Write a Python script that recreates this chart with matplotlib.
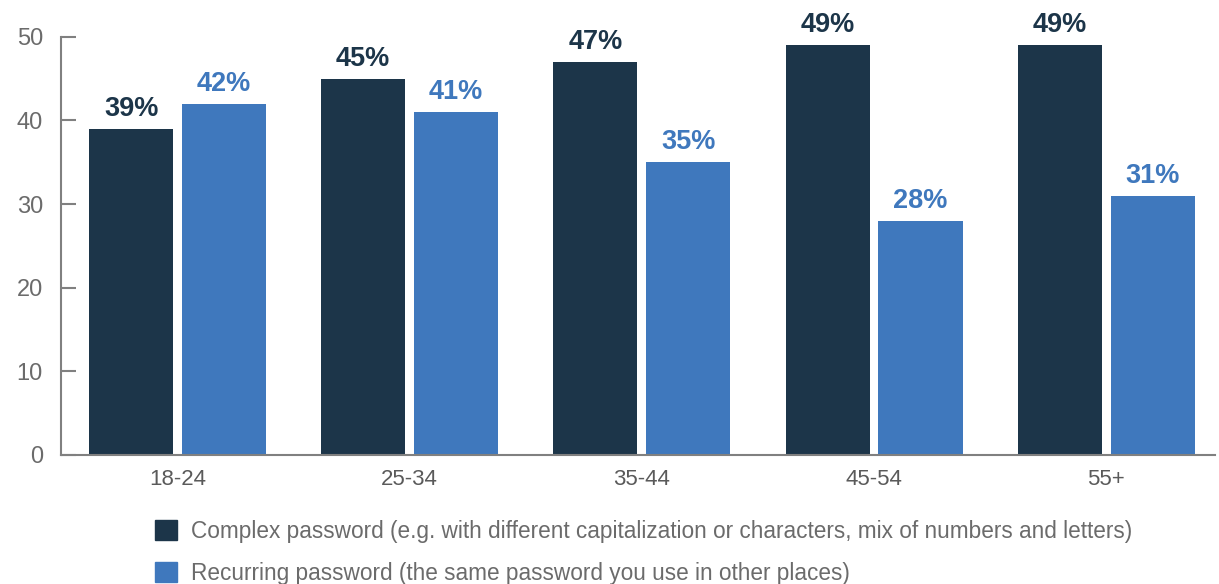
import numpy as np
import matplotlib
matplotlib.use('Agg')
import matplotlib.pyplot as plt
from matplotlib.patches import Patch

plt.rcParams['font.family'] = ['Liberation Sans', 'DejaVu Sans']

age_groups = ['18-24', '25-34', '35-44', '45-54', '55+']
complex_pw = [39, 45, 47, 49, 49]
recurring_pw = [42, 41, 35, 28, 31]
series_names = [
    'Complex password (e.g. with different capitalization or characters, mix of numbers and letters)',
    'Recurring password (the same password you use in other places)',
]

dark = '#1c3549'
blue = '#3f78bd'
grey = '#808080'

fig = plt.figure(figsize=(12.19, 5.84), dpi=100)
ax = fig.add_axes([0.050, 0.221, 0.947, 0.716])

x = np.arange(len(age_groups))
w = 0.362
b1 = ax.bar(x - 0.2, complex_pw, w, color=dark)
b2 = ax.bar(x + 0.2, recurring_pw, w, color=blue)

for bars, vals, c in [(b1, complex_pw, dark), (b2, recurring_pw, blue)]:
    for rect, v in zip(bars, vals):
        ax.annotate(f'{v}%', (rect.get_x() + rect.get_width() / 2, v),
                    xytext=(0, 5), textcoords='offset points',
                    ha='center', va='bottom', fontsize=19.5, fontweight='bold', color=c)

ax.set_ylim(0, 50)
ax.set_xlim(-0.502, 4.47)
ax.set_yticks(range(0, 51, 10))
ax.set_xticks(x)
ax.set_xticklabels(age_groups)

for s in ['top', 'right']:
    ax.spines[s].set_visible(False)
for s in ['left', 'bottom']:
    ax.spines[s].set_color(grey)
    ax.spines[s].set_linewidth(1.5)
ax.tick_params(axis='y', direction='in', length=11, width=1.5, color=grey,
               labelsize=17, labelcolor='#6b6b6b', pad=13)
ax.tick_params(axis='x', length=0, labelsize=16, labelcolor='#5a5a5a', pad=10)

handles = [Patch(color=dark), Patch(color=blue)]
fig.legend(handles, series_names, loc='upper left', bbox_to_anchor=(0.127, 0.11),
           frameon=False, fontsize=16.3, labelcolor='#6b6b6b',
           handlelength=1.0, handleheight=1.0, handletextpad=0.6, labelspacing=0.85,
           borderaxespad=0, borderpad=0)

fig.savefig('out.png', dpi=100)
